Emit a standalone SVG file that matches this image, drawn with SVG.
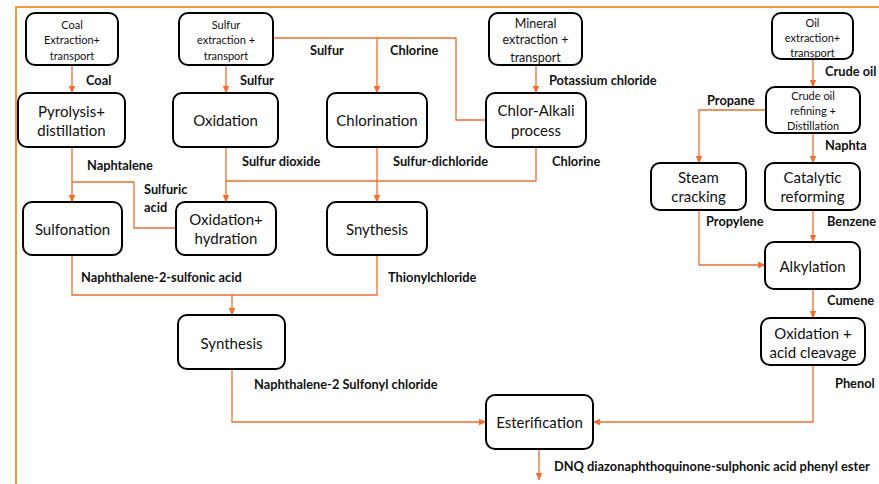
<svg xmlns="http://www.w3.org/2000/svg" width="879" height="484" viewBox="0 0 879 484">
<defs>
<marker id="ah" markerWidth="8" markerHeight="8" refX="7" refY="4" orient="auto" markerUnits="userSpaceOnUse">
<path d="M0,0.8 L7.5,4 L0,7.2 Z" fill="#EE6F30"/>
</marker>
<style>
.box{fill:#fff;stroke:#000;stroke-width:2}
.t{font-family:Lato,"Liberation Sans",sans-serif;fill:#111;text-anchor:middle;dominant-baseline:central}
.s11{font-size:11px}
.s12{font-size:12.5px}
.s15{font-size:15px}
.c{fill:none;stroke:#EE6F30;stroke-width:1.3}
.a{marker-end:url(#ah)}
.l{font-family:Lato,"Liberation Sans",sans-serif;font-weight:bold;font-size:12.8px;fill:#111;dominant-baseline:central}
.frame{fill:none;stroke:#F29A3A;stroke-width:2}
</style>
</defs>
<rect width="879" height="484" fill="#fff"/>
<path class="frame" d="M16,484 V7 H879"/>

<g id="connectors">
<path class="c a" d="M72,65 V93"/>
<path class="c a" d="M226,65 V93"/>
<path class="c a" d="M273,38 H377 V93"/>
<path class="c" d="M486,120 H456 V38 H377"/>
<path class="c a" d="M536,65 V93"/>
<path class="c a" d="M813,59 V87"/>
<path class="c a" d="M766,110 H699 V163"/>
<path class="c a" d="M813,133 V163"/>
<path class="c a" d="M699,210 V265 H765"/>
<path class="c a" d="M813,210 V242"/>
<path class="c a" d="M813,289 V318"/>
<path class="c a" d="M72,147 V202"/>
<path class="c" d="M176,228 H134 V182 H72"/>
<path class="c a" d="M226,147 V202"/>
<path class="c" d="M536,147 V181 H226"/>
<path class="c a" d="M377,147 V202"/>
<path class="c" d="M72,255 V295 H377 V255"/>
<path class="c a" d="M232,295 V315"/>
<path class="c a" d="M232,369 V422 H486"/>
<path class="c a" d="M813,365 V422 H593"/>
<path class="c a" d="M539,449 V480"/>
</g>

<g id="labels">
<text class="l" x="86" y="80">Coal</text>
<text class="l" x="240" y="80">Sulfur</text>
<text class="l" x="310" y="50">Sulfur</text>
<text class="l" x="390" y="50">Chlorine</text>
<text class="l" x="549" y="80">Potassium chloride</text>
<text class="l" x="825" y="71">Crude oil</text>
<text class="l" x="707" y="100">Propane</text>
<text class="l" x="825" y="145">Naphta</text>
<text class="l" x="87" y="165">Naphtalene</text>
<text class="l" x="242" y="161">Sulfur dioxide</text>
<text class="l" x="393" y="161">Sulfur-dichloride</text>
<text class="l" x="552" y="161">Chlorine</text>
<text class="l" x="144" y="189">Sulfuric</text>
<text class="l" x="144" y="207">acid</text>
<text class="l" x="706" y="221">Propylene</text>
<text class="l" x="827" y="221">Benzene</text>
<text class="l" x="827" y="300">Cumene</text>
<text class="l" x="81" y="277">Naphthalene-2-sulfonic acid</text>
<text class="l" x="388" y="277">Thionylchloride</text>
<text class="l" x="254" y="384">Naphthalene-2 Sulfonyl chloride</text>
<text class="l" x="835" y="383">Phenol</text>
<text class="l" x="554" y="466">DNQ diazonaphthoquinone-sulphonic acid phenyl ester</text>
</g>

<g id="coal"><rect class="box" x="26" y="13" width="92" height="52" rx="9"/>
<text class="t s11" x="72" y="24">Coal</text><text class="t s11" x="72" y="39">Extraction+</text><text class="t s11" x="72" y="55">transport</text></g>
<g id="sulfur-extraction"><rect class="box" x="179" y="13" width="94" height="52" rx="9"/>
<text class="t s11" x="226" y="24">Sulfur</text><text class="t s11" x="226" y="39">extraction +</text><text class="t s11" x="226" y="55">transport</text></g>
<g id="mineral-extraction"><rect class="box" x="489" y="13" width="93" height="52" rx="9"/>
<text class="t s12" x="535.5" y="23">Mineral</text><text class="t s12" x="535.5" y="39.5">extraction +</text><text class="t s12" x="535.5" y="57">transport</text></g>
<g id="oil-extraction"><rect class="box" x="772" y="13" width="81" height="46" rx="9"/>
<text class="t s11" x="812.5" y="22">Oil</text><text class="t s11" x="812.5" y="37">extraction+</text><text class="t s11" x="812.5" y="52">transport</text></g>
<g id="pyrolysis"><rect class="box" x="18" y="93" width="107" height="54" rx="9"/>
<text class="t s15" x="71.5" y="111">Pyrolysis+</text><text class="t s15" x="71.5" y="130">distillation</text></g>
<g id="oxidation"><rect class="box" x="173" y="93" width="105" height="54" rx="9"/>
<text class="t s15" x="225.5" y="120">Oxidation</text></g>
<g id="chlorination"><rect class="box" x="327" y="93" width="100" height="54" rx="9"/>
<text class="t s15" x="377" y="120">Chlorination</text></g>
<g id="chlor-alkali"><rect class="box" x="486" y="93" width="100" height="54" rx="9"/>
<text class="t s15" x="536" y="110">Chlor-Alkali</text><text class="t s15" x="536" y="130">process</text></g>
<g id="crude-refining"><rect class="box" x="766" y="87" width="94" height="46" rx="9"/>
<text class="t s11" x="813" y="95">Crude oil</text><text class="t s11" x="813" y="110">refining +</text><text class="t s11" x="813" y="125.5">Distillation</text></g>
<g id="sulfonation"><rect class="box" x="23" y="202" width="99" height="53" rx="9"/>
<text class="t s15" x="72.5" y="229">Sulfonation</text></g>
<g id="oxidation-hydration"><rect class="box" x="176" y="202" width="100" height="53" rx="9"/>
<text class="t s15" x="226" y="219">Oxidation+</text><text class="t s15" x="226" y="238">hydration</text></g>
<g id="snythesis"><rect class="box" x="327" y="202" width="100" height="53" rx="9"/>
<text class="t s15" x="377" y="229">Snythesis</text></g>
<g id="steam-cracking"><rect class="box" x="651" y="163" width="95" height="47" rx="9"/>
<text class="t s15" x="698.5" y="177">Steam</text><text class="t s15" x="698.5" y="196">cracking</text></g>
<g id="catalytic-reforming"><rect class="box" x="765" y="163" width="95" height="47" rx="9"/>
<text class="t s15" x="812.5" y="177">Catalytic</text><text class="t s15" x="812.5" y="196">reforming</text></g>
<g id="alkylation"><rect class="box" x="765" y="242" width="95" height="47" rx="9"/>
<text class="t s15" x="812.5" y="266">Alkylation</text></g>
<g id="oxidation-acid-cleavage"><rect class="box" x="761" y="318" width="104" height="47" rx="9"/>
<text class="t s15" x="813" y="333">Oxidation +</text><text class="t s15" x="813" y="352">acid cleavage</text></g>
<g id="synthesis"><rect class="box" x="178" y="315" width="107" height="54" rx="9"/>
<text class="t s15" x="231.5" y="343">Synthesis</text></g>
<g id="esterification"><rect class="box" x="486" y="395" width="107" height="54" rx="9"/>
<text class="t s15" x="539.5" y="422">Esterification</text></g>
</svg>
